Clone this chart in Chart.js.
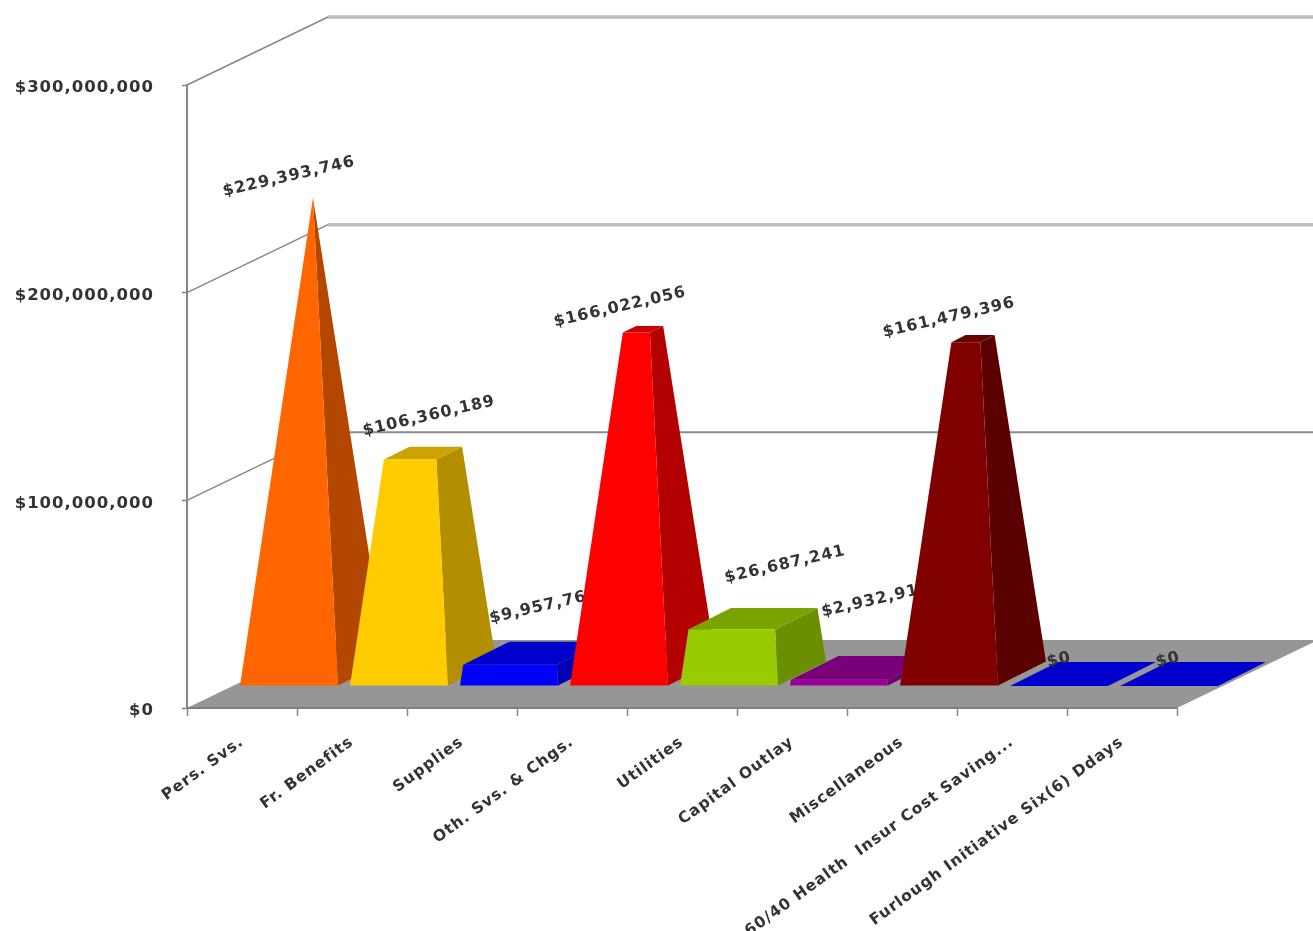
<!DOCTYPE html>
<html>
<head>
  <title>Expenditures by Category</title>
  <style>
    body { margin: 0; background: #fff; }
    canvas { display: block; }
  </style>
</head>
<body>
  <canvas id="chart" width="1313" height="931"></canvas>

  <script src="https://cdn.jsdelivr.net/npm/chart.js"></script>
  <script>
    const categories = ['Pers. Svs.', 'Fr. Benefits', 'Supplies', 'Oth. Svs. & Chgs.', 'Utilities', 'Capital Outlay',
      'Miscellaneous', '60/40 Health  Insur Cost Saving...', 'Furlough Initiative Six(6) Ddays'];
    const amounts = [229393746, 106360189, 9957768, 166022056, 26687241, 2932918, 161479396, 0, 0];
    const yTicks = [0, 100000000, 200000000, 300000000];

    const barColors = ['#ff6600', '#ffcc00', '#0000ff', '#ff0000', '#99cc00', '#990099', '#800000', '#0000ff', '#0000ff'];

    // where each value label sits relative to the middle of its bar's top
    const labelNudgeX = [-24, 6, 11, -23, 32, 13, -24, -24, -25];
    const labelNudgeY = [-21, -37, -47, -22, -54, -68, -21, -14, -14];

    const FONT = { family: '"DejaVu Sans"', size: 16.5, weight: 'bold' };
    const CATEGORY_FONT = { family: '"DejaVu Sans"', size: 15.5, weight: 'bold' };
    const VALUE_FONT = 'bold 16px "DejaVu Sans"';
    const TEXT = '#333333';
    const AXIS = '#868686';

    // oblique depth of the whole box, and of a bar standing in the middle of it
    const BOX_DX = 141, BOX_DY = -68;
    const BAR_SHIFT_X = 47, BAR_SHIFT_Y = -22;
    const BAR_DX = 48, BAR_DY = -24;

    const money = v => '$' + v.toLocaleString('en-US');

    function shade(hex, f) {
      const n = parseInt(hex.slice(1), 16);
      const c = [n >> 16, (n >> 8) & 255, n & 255].map(p => Math.round(p * f));
      return `rgb(${c[0]},${c[1]},${c[2]})`;
    }

    function poly(ctx, pts, color) {
      ctx.beginPath();
      pts.forEach((p, i) => i ? ctx.lineTo(p[0], p[1]) : ctx.moveTo(p[0], p[1]));
      ctx.closePath();
      ctx.fillStyle = color;
      ctx.fill();
    }

    // a pyramid whose apex would be at the largest value, cut off at the bar's own value
    function drawPyramid(ctx, bar, value, peak, color) {
      const cx = bar.x + BAR_SHIFT_X;
      const baseY = bar.base + BAR_SHIFT_Y;
      const h = bar.base - bar.y;
      const half = bar.width / 2;
      const rest = 1 - value / peak;

      const midX = cx + BAR_DX / 2;
      const midY = baseY + BAR_DY / 2 - h;
      const topHalf = half * rest;
      const tdx = BAR_DX / 2 * rest, tdy = BAR_DY / 2 * rest;

      const topFL = [midX - tdx - topHalf, midY - tdy];
      const topFR = [midX - tdx + topHalf, midY - tdy];
      const topBL = [midX + tdx - topHalf, midY + tdy];
      const topBR = [midX + tdx + topHalf, midY + tdy];
      const baseFL = [cx - half, baseY];
      const baseFR = [cx + half, baseY];
      const baseBR = [cx + half + BAR_DX, baseY + BAR_DY];

      poly(ctx, [baseFR, baseBR, topBR, topFR], shade(color, 0.7));
      poly(ctx, [topFL, topFR, topBR, topBL], shade(color, 0.8));
      poly(ctx, [baseFL, baseFR, topFR, topFL], color);

      return { x: midX, y: midY };
    }

    class PyramidController extends Chart.BarController {
      draw() {
        const ctx = this.chart.ctx;
        const peak = Math.max(...amounts);
        this.getMeta().data.forEach((bar, i) => {
          const top = drawPyramid(ctx, bar, amounts[i], peak, barColors[i]);

          // labels go down with their bar so the next bar can run over them
          ctx.save();
          ctx.translate(top.x + labelNudgeX[i], top.y + labelNudgeY[i]);
          ctx.rotate(-13 * Math.PI / 180);
          ctx.font = VALUE_FONT;
          ctx.fillStyle = TEXT;
          ctx.textAlign = 'center';
          ctx.textBaseline = 'middle';
          ctx.fillText(money(amounts[i]), 0, 0);
          ctx.restore();
        });
      }
    }
    PyramidController.id = 'pyramid';
    PyramidController.defaults = Chart.BarController.defaults;
    PyramidController.overrides = Chart.BarController.overrides;
    Chart.register(PyramidController);

    // floor and the gridlines that fold from the side wall onto the back wall
    const boxPlugin = {
      id: 'box',
      beforeDraw(chart) {
        const { ctx, scales: { y } } = chart;
        // the wide lettering is the same on every text in the chart
        ctx.letterSpacing = '1px';
        // tick labels sit a little below the tick marks
        if (!y.nudged) {
          const drawLabels = y.drawLabels;
          y.drawLabels = function (area) {
            ctx.save();
            ctx.translate(0, 3);
            drawLabels.call(this, area);
            ctx.restore();
          };
          y.nudged = true;
        }
      },
      beforeDatasetsDraw(chart) {
        const { ctx, chartArea: area, scales: { y } } = chart;
        const floorY = y.getPixelForValue(0);

        poly(ctx, [
          [area.left, floorY],
          [area.right, floorY],
          [area.right + BOX_DX, floorY + BOX_DY],
          [area.left + BOX_DX, floorY + BOX_DY]
        ], '#969696');

        ctx.strokeStyle = '#7f7f7f';
        ctx.lineWidth = 2;
        ctx.beginPath();
        ctx.moveTo(area.left, floorY);
        ctx.lineTo(area.right, floorY);
        ctx.stroke();

        yTicks.slice(1).forEach((v, i) => {
          const py = y.getPixelForValue(v);
          ctx.strokeStyle = AXIS;
          ctx.lineWidth = 1.5;
          ctx.beginPath();
          ctx.moveTo(area.left, py);
          ctx.lineTo(area.left + BOX_DX, py + BOX_DY);
          ctx.stroke();

          ctx.strokeStyle = i === 0 ? '#8c8c8c' : '#bdbdbd';
          ctx.lineWidth = i === 0 ? 2 : 3.5;
          ctx.beginPath();
          ctx.moveTo(area.left + BOX_DX, py + BOX_DY);
          ctx.lineTo(chart.width, py + BOX_DY);
          ctx.stroke();
        });
      }
    };

    new Chart(document.getElementById('chart'), {
      type: 'pyramid',
      data: {
        labels: categories,
        datasets: [{
          data: amounts,
          backgroundColor: barColors,
          barPercentage: 0.89,
          categoryPercentage: 1,
          clip: false
        }]
      },
      options: {
        responsive: false,
        animation: false,
        layout: { padding: { top: 85, right: 136, left: 0, bottom: 0 } },
        plugins: { legend: { display: false }, tooltip: { enabled: false } },
        scales: {
          x: {
            type: 'category',
            offset: true,
            afterFit(scale) { scale.height = 223; },
            grid: { offset: true, drawOnChartArea: false, color: AXIS, tickLength: 8, tickWidth: 1.5 },
            border: { color: AXIS, width: 2 },
            ticks: {
              autoSkip: false,
              minRotation: 36,
              maxRotation: 36,
              padding: 17,
              font: CATEGORY_FONT,
              color: TEXT
            }
          },
          y: {
            type: 'linear',
            min: 0,
            max: 300000000,
            afterFit(scale) { scale.width = 187; },
            afterBuildTicks(scale) { scale.ticks = yTicks.map(value => ({ value })); },
            grid: { drawOnChartArea: false, color: AXIS, tickLength: 5, tickWidth: 1.5 },
            border: { color: AXIS, width: 2 },
            ticks: {
              padding: 28,
              font: FONT,
              color: TEXT,
              callback: v => money(v)
            }
          }
        }
      },
      plugins: [boxPlugin]
    });
  </script>
</body>
</html>
